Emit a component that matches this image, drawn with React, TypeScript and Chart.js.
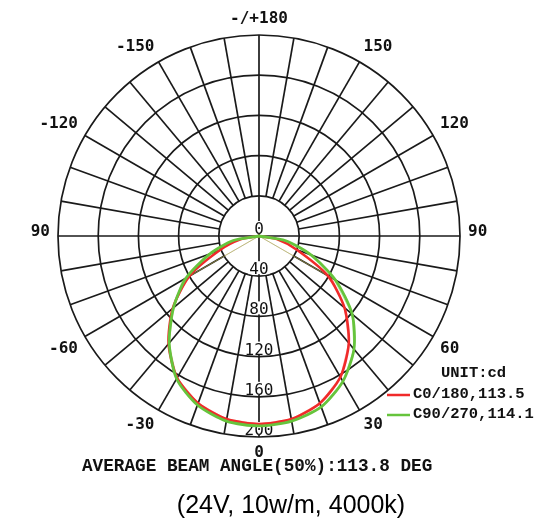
import { useEffect, useRef } from 'react';
import { Chart, registerables } from 'chart.js';

Chart.register(...registerables);

// Gamma angles, clockwise from the top of the polar diagram (10° steps)
const gammaLabels = [
  '-/+180', '170', '160', '150', '140', '130', '120', '110', '100',
  '90', '80', '70', '60', '50', '40', '30', '20', '10',
  '0', '-10', '-20', '-30', '-40', '-50', '-60', '-70', '-80',
  '90', '-100', '-110', '-120', '-130', '-140', '-150', '-160', '-170',
];

// Intensity (cd) per gamma angle, aligned with gammaLabels
const c0_180 = [
  0, 0, 0, 0, 0, 0, 0, 0, 0,
  0, 18, 40, 79, 111, 139, 162, 177, 185,
  187, 185, 177, 163, 140, 112, 80, 42, 18,
  0, 0, 0, 0, 0, 0, 0, 0, 0,
];
const c90_270 = [
  0, 0, 0, 0, 0, 0, 0, 0, 0,
  0, 27, 55, 88, 121, 147, 167, 181, 187,
  189, 187, 179, 164, 139, 111, 84, 52, 26,
  0, 0, 0, 0, 0, 0, 0, 0, 0,
];
// Sparse (unsmoothed) traces drawn faintly underneath
const c0_180Raw = [
  0, 0, 0, 0, 0, 0, 0, 0, 0,
  0, 0, 0, 84, 111, 139, 162, 177, 185,
  187, 185, 177, 163, 140, 112, 82, 0, 0,
  0, 0, 0, 0, 0, 0, 0, 0, 0,
];
const c90_270Raw = [
  0, 0, 0, 0, 0, 0, 0, 0, 0,
  0, 0, 0, 86, 121, 147, 167, 181, 187,
  189, 187, 179, 164, 139, 111, 88, 0, 0,
  0, 0, 0, 0, 0, 0, 0, 0, 0,
];

const ringTicks = [0, 40, 80, 120, 160, 200];
const seriesNames = ['C0/180,113.5', 'C90/270,114.1'];
const unitLabel = 'UNIT:cd';
const beamText = 'AVERAGE BEAM ANGLE(50%):113.8 DEG';
const captionText = '(24V, 10w/m, 4000k)';

const RED = '#f02a2a';
const GREEN = '#66c43c';
const GRID = '#1a1a1a';

const polarDecor = {
  id: 'polarDecor',
  beforeDatasetsDraw(chart: any) {
    const scale = chart.scales.r;
    const ctx = chart.ctx as CanvasRenderingContext2D;
    const labels = chart.data.labels as string[];
    const n = labels.length;
    const rInner = scale.getDistanceFromCenterForValue(ringTicks[1]);
    const rMax = scale.getDistanceFromCenterForValue(scale.max);
    ctx.save();
    ctx.strokeStyle = GRID;
    ctx.lineWidth = 1.7;
    for (let i = 0; i < n; i++) {
      const full = i % 9 === 0;
      const a = scale.getPointPosition(i, full ? 0 : rInner);
      const b = scale.getPointPosition(i, rMax);
      ctx.beginPath();
      ctx.moveTo(a.x, a.y);
      ctx.lineTo(b.x, b.y);
      ctx.stroke();
    }
    // ring value labels along the downward (gamma 0) direction
    const downIdx = labels.indexOf('0');
    ctx.font = '16px "DejaVu Sans Mono"';
    ctx.textAlign = 'center';
    ctx.textBaseline = 'alphabetic';
    for (const v of ringTicks) {
      const d = scale.getDistanceFromCenterForValue(v);
      const p = scale.getPointPosition(downIdx, d);
      const t = String(v);
      const w = ctx.measureText(t).width;
      ctx.fillStyle = '#ffffff';
      ctx.fillRect(p.x - w / 2 - 1, p.y - 15, w + 2, 13);
      ctx.fillStyle = '#111111';
      ctx.fillText(t, p.x, p.y - 2);
    }
    // angle labels every 30°
    ctx.font = 'bold 16px "DejaVu Sans Mono"';
    ctx.fillStyle = '#111111';
    for (let i = 0; i < n; i += 3) {
      const p = scale.getPointPosition(i, rMax + 8);
      const ang = (i / n) * Math.PI * 2;
      const s = Math.sin(ang);
      const c = Math.cos(ang);
      ctx.textAlign = s > 0.05 ? 'left' : s < -0.05 ? 'right' : 'center';
      if (Math.abs(c) < 0.05) ctx.textBaseline = 'alphabetic';
      else ctx.textBaseline = c > 0 ? 'bottom' : 'top';
      ctx.fillText(labels[i], p.x, p.y);
    }
    ctx.restore();
  },
  afterDatasetsDraw(chart: any) {
    const ctx = chart.ctx as CanvasRenderingContext2D;
    ctx.save();
    ctx.fillStyle = '#111111';
    ctx.font = 'bold 15.5px "Liberation Mono"';
    ctx.textAlign = 'left';
    ctx.textBaseline = 'middle';
    ctx.fillText(unitLabel, 441, 373);
    const colors = [RED, GREEN];
    seriesNames.forEach((name, k) => {
      const y = 395 + k * 20;
      ctx.strokeStyle = colors[k];
      ctx.lineWidth = 2.5;
      ctx.beginPath();
      ctx.moveTo(387, y);
      ctx.lineTo(410, y);
      ctx.stroke();
      ctx.fillText(name, 413, y - 1);
    });
    ctx.font = 'bold 17.7px "Liberation Mono"';
    ctx.textBaseline = 'alphabetic';
    ctx.fillText(beamText, 82, 471);
    ctx.font = '25px "Liberation Sans"';
    ctx.textAlign = 'center';
    ctx.fillStyle = '#000000';
    ctx.fillText(captionText, 291, 513);
    ctx.restore();
  },
};

export default function App() {
  const ref = useRef<HTMLCanvasElement>(null);
  useEffect(() => {
    if (!ref.current) return;
    const chart = new Chart(ref.current, {
      type: 'radar',
      data: {
        labels: gammaLabels,
        datasets: [
          { label: seriesNames[1], data: c90_270, borderColor: GREEN, borderWidth: 2.8, tension: 0.25, fill: false, order: 0 },
          { label: seriesNames[0], data: c0_180, borderColor: RED, borderWidth: 2.6, tension: 0.25, fill: false, order: 1 },
          { label: 'raw90', data: c90_270Raw, borderColor: 'rgba(110,200,70,0.45)', borderWidth: 1, tension: 0, fill: false, order: 2 },
          { label: 'raw0', data: c0_180Raw, borderColor: 'rgba(240,90,80,0.45)', borderWidth: 1, tension: 0, fill: false, order: 3 },
        ],
      },
      options: {
        responsive: false,
        animation: false,
        layout: { padding: { left: 58, right: 90, top: 35, bottom: 84 } },
        plugins: { legend: { display: false }, tooltip: { enabled: false } },
        elements: { point: { radius: 0, hoverRadius: 0 } },
        scales: {
          r: {
            min: 0,
            max: 200,
            startAngle: 0,
            ticks: { display: false, stepSize: 40 },
            grid: { circular: true, color: GRID, lineWidth: 1.7 },
            angleLines: { display: false },
            pointLabels: { display: false },
          },
        },
      },
      plugins: [polarDecor],
    });
    return () => chart.destroy();
  }, []);
  return (
    <div style={{ position: 'absolute', left: 0, top: 0, width: 550, height: 521, background: '#ffffff' }}>
      <canvas ref={ref} width={550} height={521} style={{ display: 'block', width: 550, height: 521 }} />
    </div>
  );
}
